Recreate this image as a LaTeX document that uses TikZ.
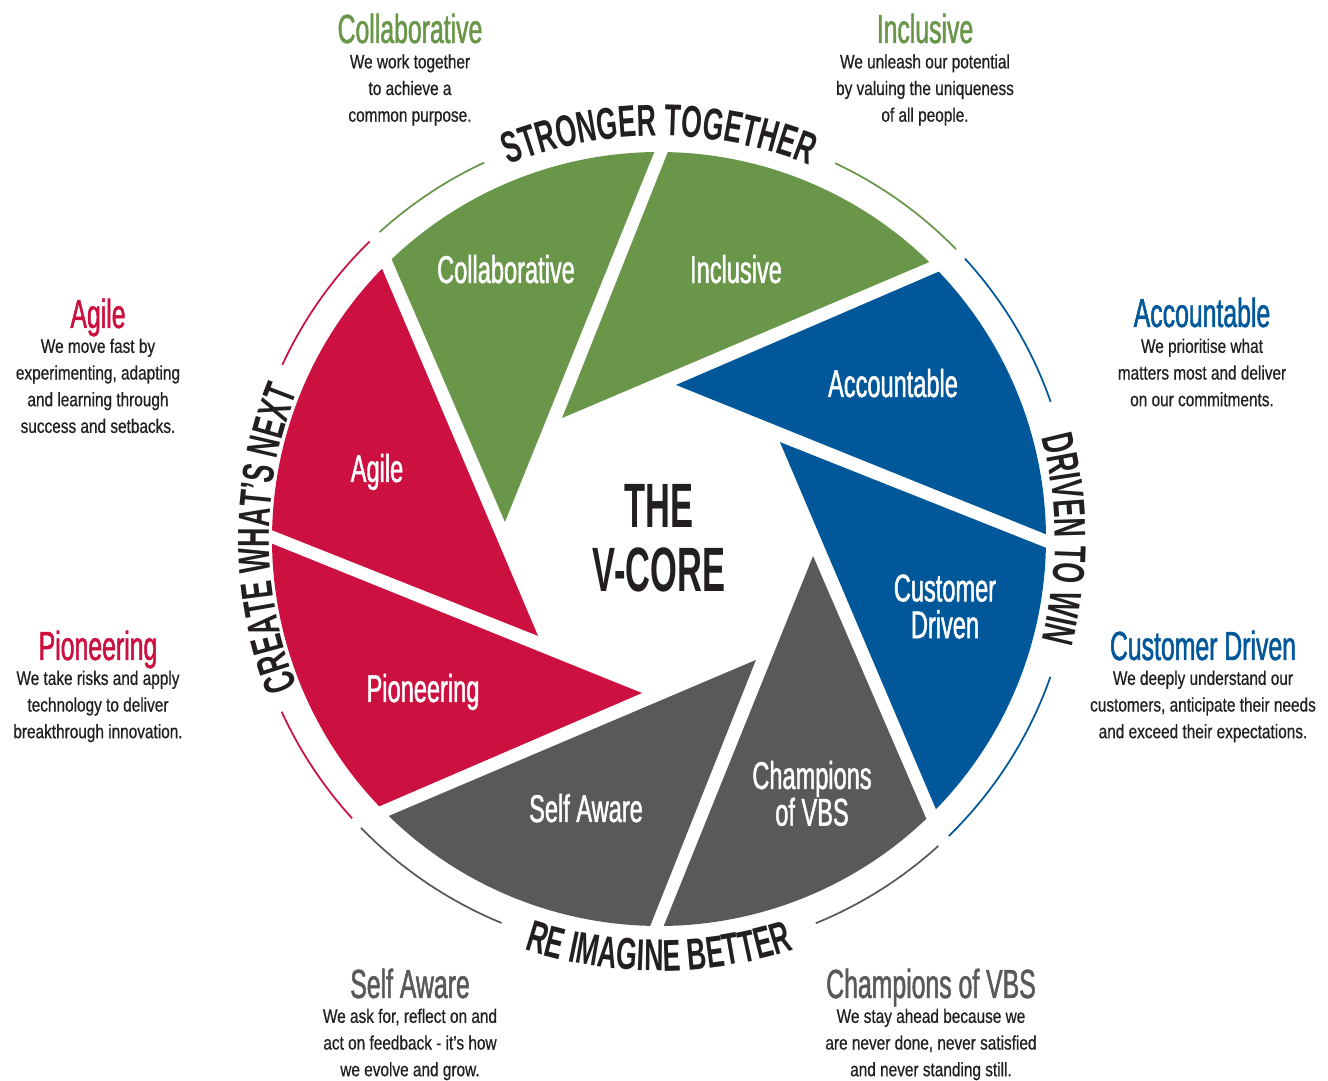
\documentclass[tikz,border=0pt]{standalone}
\usepackage{fontspec}
\setmainfont{Liberation Sans}
\newfontfamily\condA{Liberation Sans}[FakeStretch=0.61, FakeBold=1.2]
\newfontfamily\condB{Liberation Sans}[FakeStretch=0.79, FakeBold=0.6]
\newfontfamily\condC{Liberation Sans}[FakeStretch=0.55]
\newfontfamily\condR{Liberation Sans}[FakeStretch=0.6]
\usetikzlibrary{decorations.text}
\definecolor{vgreen}{RGB}{105,150,72}
\definecolor{vred}{RGB}{204,16,64}
\definecolor{vblue}{RGB}{0,88,154}
\definecolor{vgrey}{RGB}{88,89,91}
\definecolor{vtext}{RGB}{35,31,32}
\newcommand\ringfmt{\color{vtext}\condR\bfseries\fontsize{33.5}{40}\selectfont}

\begin{document}
\begin{tikzpicture}[x=0.75pt,y=0.75pt,
  bladelabel/.style={font=\condA\fontsize{29}{27.5}\selectfont, text=white, inner sep=0pt},
  valtitle/.style={font=\condA\fontsize{30.5}{32}\selectfont, anchor=base, inner sep=0pt},
  valdesc/.style={font=\condB\fontsize{14.6}{20}\selectfont, text=vtext, align=center, anchor=north, inner sep=0pt},
  thinarc/.style={line width=1.3pt}
]
\fill[white] (0,0) rectangle (1328,1081);
\useasboundingbox (0,0) rectangle (1328,1081);

\begin{scope}[shift={(659,542)}]
  % aperture blades
  \foreach \k/\col in {0/vgreen,1/vgreen,2/vblue,3/vblue,4/vgrey,5/vgrey,6/vred,7/vred}{
    \fill[\col] ({173.7-45*\k}:155) -- ({90.7-45*\k}:387)
      arc[start angle={90.7-45*\k}, end angle={133.7-45*\k}, radius=387] -- cycle;
  }
  % thin outer arcs
  \foreach \a/\b/\col in {44.3/64.9/vgreen, 114.9/132.3/vgreen, 134.2/155.2/vred, 204.6/222.3/vred, 224.1/247.7/vgrey, 292.2/312.3/vgrey, 314.3/340.6/vblue, 19.3/42.5/vblue}{
    \draw[\col, thinarc] (\a:415) arc[start angle=\a, end angle=\b, radius=415];
  }
  % ring texts
  \path[decorate, decoration={text along path, text align=center, text={|\ringfmt|STRONGER TOGETHER}}]
    (135:403) arc[start angle=135, end angle=45, radius=403];
  \path[decorate, decoration={text along path, text align=center, text={|\ringfmt|DRIVEN TO WIN}}]
    (45:396) arc[start angle=45, end angle=-45, radius=396];
  \path[decorate, decoration={text along path, text align=center, text={|\ringfmt|RE IMAGINE BETTER}}]
    (225:432) arc[start angle=225, end angle=315, radius=432];
  \path[decorate, decoration={text along path, text align=center, text={|\ringfmt|CREATE WHAT’S NEXT}}]
    (225:390) arc[start angle=225, end angle=135, radius=390];
\end{scope}

% centre
\node[font=\condC\bfseries\fontsize{47}{48}\selectfont, text=vtext, align=center, inner sep=0pt] (core) at (659,542.5) {THE\\V-CORE};

% blade labels
\node[bladelabel, anchor=base] (lcollab) at (506,798) {Collaborative};
\node[bladelabel, anchor=base] (lincl) at (736,798) {Inclusive};
\node[bladelabel, anchor=base] (lacc) at (893,684) {Accountable};
\node[bladelabel, align=center] (lcust) at (945,474.5) {Customer\\Driven};
\node[bladelabel, align=center] (lchamp) at (812,287.5) {Champions\\of VBS};
\node[bladelabel, anchor=base] (lself) at (586,259) {Self Aware};
\node[bladelabel, anchor=base] (lpion) at (423,379) {Pioneering};
\node[bladelabel, anchor=base] (lagile) at (377,599) {Agile};

% value titles
\node[valtitle, text=vgreen] (tcollab) at (410,1038) {Collaborative};
\node[valtitle, text=vgreen] (tincl) at (925,1038) {Inclusive};
\node[valtitle, text=vred] (tagile) at (98,753) {Agile};
\node[valtitle, text=vred] (tpion) at (98,421) {Pioneering};
\node[valtitle, text=vblue] (tacc) at (1202,754) {Accountable};
\node[valtitle, text=vblue] (tcust) at (1203,421) {Customer Driven};
\node[valtitle, text=vgrey] (tself) at (410,83) {Self Aware};
\node[valtitle, text=vgrey] (tchamp) at (931,83) {Champions of VBS};

% value descriptions
\node[valdesc] (dcollab) at (410,1027) {We work together\\to achieve a\\common purpose.};
\node[valdesc] (dincl) at (925,1027) {We unleash our potential\\by valuing the uniqueness\\of all people.};
\node[valdesc] (dagile) at (98,742.5) {We move fast by\\experimenting, adapting\\and learning through\\success and setbacks.};
\node[valdesc] (dpion) at (98,410.5) {We take risks and apply\\technology to deliver\\breakthrough innovation.};
\node[valdesc] (dacc) at (1202,742.5) {We prioritise what\\matters most and deliver\\on our commitments.};
\node[valdesc] (dcust) at (1203,410.5) {We deeply understand our\\customers, anticipate their needs\\and exceed their expectations.};
\node[valdesc] (dself) at (410,72.5) {We ask for, reflect on and\\act on feedback - it’s how\\we evolve and grow.};
\node[valdesc] (dchamp) at (931,72.5) {We stay ahead because we\\are never done, never satisfied\\and never standing still.};
\end{tikzpicture}
\end{document}
